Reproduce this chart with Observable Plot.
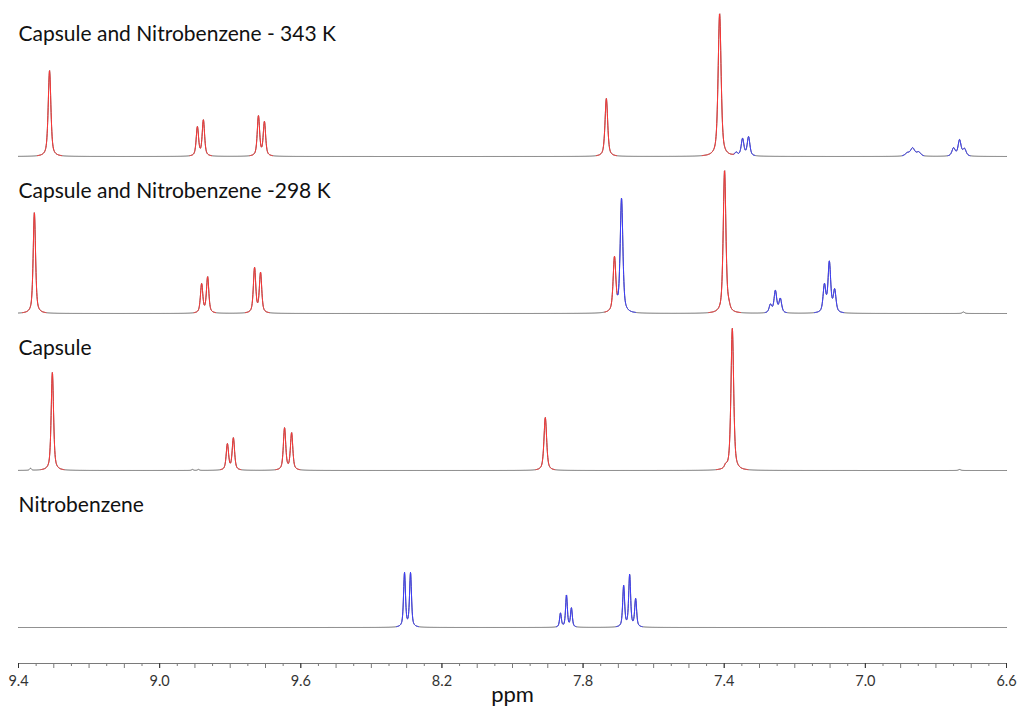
<!DOCTYPE html>
<html>
<head>
<meta charset="utf-8">
<script src="https://cdn.jsdelivr.net/npm/d3@7"></script>
<script src="https://cdn.jsdelivr.net/npm/@observablehq/plot@0.6"></script>
<style>
  html, body { margin: 0; padding: 0; background: #fff; }
  #chart svg { display: block; }
</style>
</head>
<body>
<div id="chart"></div>
<script>
// ---- Data ----
const spectrumTitles = [
  "Capsule and Nitrobenzene - 343 K",
  "Capsule and Nitrobenzene -298 K",
  "Capsule",
  "Nitrobenzene"
];

// peaks: [shift (ppm), intensity, linewidth (ppm), group]
const peaks343K = [
  [9.312, 86, 0.009, "capsule"],
  [8.893, 29, 0.008, "capsule"],
  [8.876, 36, 0.008, "capsule"],
  [8.720, 40, 0.008, "capsule"],
  [8.703, 34, 0.008, "capsule"],
  [7.734, 58, 0.009, "capsule"],
  [7.413, 143, 0.010, "capsule"],
  [7.366, 3, 0.008, "guest"],
  [7.348, 17, 0.009, "guest"],
  [7.331, 19, 0.009, "guest"],
  [6.881, 3, 0.015, "guest"],
  [6.866, 8, 0.014, "guest"],
  [6.849, 4, 0.014, "guest"],
  [6.750, 8, 0.011, "guest"],
  [6.733, 16, 0.010, "guest"],
  [6.719, 7, 0.011, "guest"]
];

const peaks298K = [
  [9.355, 101, 0.008, "capsule"],
  [8.881, 29, 0.008, "capsule"],
  [8.864, 36, 0.008, "capsule"],
  [8.731, 45, 0.008, "capsule"],
  [8.714, 40, 0.008, "capsule"],
  [7.711, 54, 0.009, "capsule"],
  [7.691, 114, 0.009, "guest"],
  [7.399, 143, 0.009, "capsule"],
  [7.387, 4, 0.008, "capsule"],
  [7.269, 8, 0.009, "guest"],
  [7.255, 22, 0.009, "guest"],
  [7.241, 14, 0.009, "guest"],
  [7.116, 27, 0.009, "guest"],
  [7.102, 50, 0.009, "guest"],
  [7.087, 22, 0.009, "guest"],
  [6.722, 1.5, 0.008, "other"]
];

const peaksCapsule = [
  [9.366, 2, 0.006, "other"],
  [9.304, 98, 0.008, "capsule"],
  [8.907, 1, 0.006, "other"],
  [8.890, 1, 0.006, "other"],
  [8.808, 26, 0.008, "capsule"],
  [8.791, 32, 0.008, "capsule"],
  [8.646, 42, 0.008, "capsule"],
  [8.626, 37, 0.008, "capsule"],
  [7.907, 53, 0.009, "capsule"],
  [7.396, 3, 0.008, "capsule"],
  [7.377, 142, 0.009, "capsule"],
  [6.733, 1, 0.008, "other"]
];

const peaksNitrobenzene = [
  [8.306, 54, 0.0065, "guest"],
  [8.289, 54, 0.0065, "guest"],
  [7.864, 14, 0.006, "guest"],
  [7.847, 32, 0.006, "guest"],
  [7.833, 19, 0.006, "guest"],
  [7.685, 41, 0.0065, "guest"],
  [7.668, 52, 0.0065, "guest"],
  [7.651, 28, 0.0065, "guest"]
];

const allPeaks = [peaks343K, peaks298K, peaksCapsule, peaksNitrobenzene];

const majorTicks = [9.4, 9.0, 8.6, 8.2, 7.8, 7.4, 7.0, 6.6];
const tickLabels = ["9.4", "9.0", "9.6", "8.2", "7.8", "7.4", "7.0", "6.6"];
const axisTitle = "ppm";

// ---- Layout ----
const rowStep = 157;      // vertical distance between stacked spectra
const axisGap = 36;       // bottom spectrum baseline above the axis
const titleRise = 122;    // title above its baseline
const groupColor = {capsule: "#ff3434", guest: "#3c3cff"};
const baseColor = "#5e5e5e";
const fontFamily = "Lato, 'Open Sans', sans-serif";

const baseOf = i => axisGap + (allPeaks.length - 1 - i) * rowStep;

// line shape (pseudo-Voigt) for each peak
function shape(x, x0, w) {
  const t = (x - x0) / (w / 2);
  return 0.6 / (1 + t * t) + 0.4 * Math.exp(-Math.LN2 * t * t);
}

const grid = d3.range(9.4, 6.6 - 1e-9, -0.0007);
const lineRows = [];
const colorRows = [];
let seg = 0;
allPeaks.forEach((peaks, i) => {
  const base = baseOf(i);
  let prev = null;
  grid.forEach(x => {
    const g = {};
    let total = 0;
    for (const [x0, h, w, grp] of peaks) {
      const v = h * shape(x, x0, w);
      total += v;
      g[grp] = (g[grp] || 0) + v;
    }
    let dom = null, dv = 0;
    for (const k of ["capsule", "guest"]) if ((g[k] || 0) > dv) { dv = g[k]; dom = k; }
    const c = dv > 0.9 ? dom : null;
    const row = {x, y: base + total, spectrum: i};
    lineRows.push(row);
    if (c) {
      if (!prev || prev.c !== c) {
        seg++;
        if (prev) colorRows.push({...prev.row, seg, color: groupColor[c]});
      }
      colorRows.push({...row, seg, color: groupColor[c]});
    } else if (prev && prev.c) {
      colorRows.push({...row, seg, color: groupColor[prev.c]});
    }
    prev = {c, row};
  });
});

const titleRows = spectrumTitles.map((t, i) => ({t, y: baseOf(i) + titleRise}));
const labelOf = new Map(majorTicks.map((v, i) => [v.toFixed(2), tickLabels[i]]));
const halfTicks = d3.range(9.35, 6.6, -0.1);
const tenthTicks = d3.range(9.3, 6.65, -0.1);

const chart = Plot.plot({
  width: 1019,
  height: 711,
  marginLeft: 18,
  marginRight: 13,
  marginTop: 0,
  marginBottom: 48,
  style: {fontFamily, background: "#fff"},
  x: {domain: [9.4, 6.6]},
  y: {domain: [0, 663], axis: null},
  marks: [
    Plot.ruleY([0], {stroke: "#7a7a7a", strokeWidth: 1.2}),
    Plot.ruleX(halfTicks, {y1: 0, y2: -3, stroke: "#7a7a7a"}),
    Plot.ruleX(tenthTicks, {y1: 0, y2: -5, stroke: "#7a7a7a"}),
    Plot.axisX({
      ticks: majorTicks,
      tickFormat: d => labelOf.get(d.toFixed(2)),
      tickSize: 5,
      tickPadding: 7,
      fontSize: 14.5,
      color: "#333",
      label: null
    }),
    Plot.text([axisTitle], {frameAnchor: "bottom", dy: 38, fontSize: 22, fill: "#111"}),
    Plot.line(lineRows, {x: "x", y: "y", z: "spectrum", stroke: baseColor, strokeWidth: 1}),
    Plot.line(colorRows, {x: "x", y: "y", z: "seg", stroke: "color", strokeWidth: 1}),
    Plot.text(titleRows, {x: 9.4, y: "y", text: "t", textAnchor: "start", dx: 0, fontSize: 21, fill: "#111"})
  ]
});
document.getElementById("chart").appendChild(chart);
</script>
</body>
</html>
